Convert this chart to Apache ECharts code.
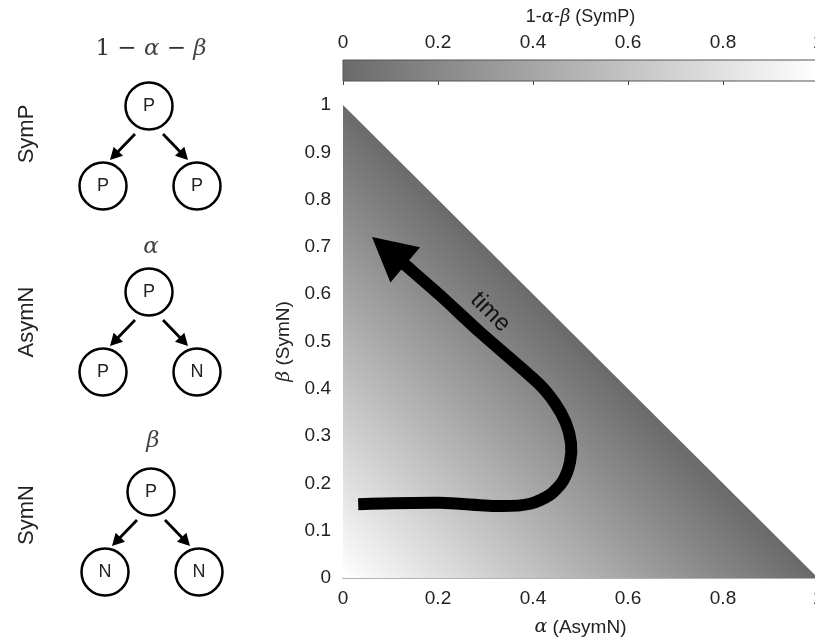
<!DOCTYPE html>
<html><head><meta charset="utf-8">
<script src="https://cdn.jsdelivr.net/npm/echarts@6/dist/echarts.min.js"></script>
<style>html,body{margin:0;padding:0;background:#fff}#c{width:815px;height:644px}</style>
</head><body><div id="c"></div>
<script>
// ---- data ----
const alphaTicks = [0, 0.2, 0.4, 0.6, 0.8, 1];
const betaTicks = [0, 0.1, 0.2, 0.3, 0.4, 0.5, 0.6, 0.7, 0.8, 0.9, 1];
const colorbarTicks = [0, 0.2, 0.4, 0.6, 0.8, 1];
// simplex region alpha + beta <= 1 (value shown = 1 - alpha - beta)
const triangleAlpha = [0, 1, 0];
const triangleBeta = [0, 0, 1];
// "time" trajectory
const timeAlpha = [0.032, 0.204, 0.331, 0.394, 0.436, 0.463, 0.478, 0.480, 0.469, 0.446, 0.411, 0.288, 0.204, 0.131];
const timeBeta  = [0.156, 0.159, 0.152, 0.157, 0.176, 0.205, 0.245, 0.285, 0.328, 0.370, 0.412, 0.520, 0.598, 0.662];
const arrowTip = [0.061, 0.721];
const timeLabelPos = [0.310, 0.562];
const timeLabel = 'time';
// division-mode diagrams
const modes = ['SymP', 'AsymN', 'SymN'];
const modeChildren = [['P', 'P'], ['P', 'N'], ['N', 'N']];
const modeProb = ['1 {m|−} {g|α} {m|−} {g|β}', '{g|α}', '{g|β}'];

const DARK = '#6a6a6a';
const SANS = '"Liberation Sans", Arial, Helvetica, sans-serif';
const SERIF = '"DejaVu Serif","Liberation Serif", serif';

const chart = echarts.init(document.getElementById('c'));

// ---- diagrams (decorative) ----
const graphics = [];
function arrow(x1, y1, x2, y2) {
  const dx = x2 - x1, dy = y2 - y1, L = Math.hypot(dx, dy);
  const ux = dx / L, uy = dy / L, hl = 12, hw = 6.5;
  const bx = x2 - ux * hl, by = y2 - uy * hl;
  graphics.push({type: 'line', shape: {x1, y1, x2: bx + ux, y2: by + uy}, style: {stroke: '#000', lineWidth: 2.8}});
  graphics.push({type: 'polygon', shape: {points: [[x2, y2], [bx - uy * hw, by + ux * hw], [bx + uy * hw, by - ux * hw]]}, style: {fill: '#000'}});
}
function node(x, y, t) {
  graphics.push({type: 'circle', shape: {cx: x, cy: y, r: 23.5}, style: {fill: '#fff', stroke: '#000', lineWidth: 2.5}});
  graphics.push({type: 'text', x, y, style: {text: t, font: '18px ' + SANS, fill: '#222', textAlign: 'center', textVerticalAlign: 'middle'}});
}
const treeTops = [[149, 106], [149, 292], [151, 492]];
const labelY = [49, 247, 441];
const sideY = [134, 322, 515];
modes.forEach((m, i) => {
  const [cx, cy] = treeTops[i];
  graphics.push({type: 'text', x: 27, y: sideY[i], rotation: Math.PI / 2,
    style: {text: m, font: '22px ' + SANS, fill: '#222', textAlign: 'center', textVerticalAlign: 'middle'}});
  graphics.push({type: 'text', x: cx + 2, y: labelY[i],
    style: {text: modeProb[i], font: '23px ' + SERIF, fill: '#333', textAlign: 'center', textVerticalAlign: 'middle',
      rich: {g: {font: 'italic 23px ' + SERIF, fill: '#444'}, m: {font: '23px ' + SERIF, fill: '#333'}}}});
  node(cx, cy, 'P');
  node(cx - 46, cy + 80, modeChildren[i][0]);
  node(cx + 48, cy + 80, modeChildren[i][1]);
  arrow(cx - 14, cy + 28, cx - 39, cy + 54);
  arrow(cx + 14, cy + 28, cx + 39, cy + 54);
});

const labelStyle = {fontFamily: SANS, fontSize: 19, color: '#222'};
const nameRich = {g: {fontFamily: SERIF, fontStyle: 'italic', fontSize: 19, color: '#222'}};

chart.setOption({
  animation: false,
  backgroundColor: '#fff',
  graphic: graphics,
  grid: [
    {left: 343, right: -3, top: 105, height: 473, outerBoundsMode: 'none', containLabel: false},
    {left: 343, right: -3, top: 60, height: 21, outerBoundsMode: 'none', containLabel: false}
  ],
  xAxis: [
    {gridIndex: 0, type: 'value', min: 0, max: 1, interval: 0.2,
      axisLine: {show: true, lineStyle: {color: '#9a9a9a', width: 1.5}}, axisTick: {show: false}, splitLine: {show: false},
      axisLabel: Object.assign({margin: 11}, labelStyle),
      name: '{g|α} (AsymN)', nameLocation: 'middle', nameGap: 40,
      nameTextStyle: Object.assign({rich: nameRich}, labelStyle)},
    {gridIndex: 1, type: 'value', position: 'top', min: 0, max: 1, interval: 0.2,
      axisLine: {show: false}, axisTick: {show: true, inside: true, length: 4, lineStyle: {color: '#444'}}, splitLine: {show: false},
      axisLabel: Object.assign({margin: 8}, labelStyle),
      name: '1-{g|α}-{g|β} (SymP)', nameLocation: 'middle', nameGap: 34,
      nameTextStyle: Object.assign({rich: {g: {fontFamily: SERIF, fontStyle: 'italic', fontSize: 18, color: '#222'}}}, labelStyle, {fontSize: 18})}
  ],
  yAxis: [
    {gridIndex: 0, type: 'value', min: 0, max: 1, interval: 0.1,
      axisLine: {show: false}, axisTick: {show: false}, splitLine: {show: false},
      axisLabel: Object.assign({margin: 12}, labelStyle),
      name: '{g|β} (SymN)', nameLocation: 'middle', nameGap: 42,
      nameTextStyle: Object.assign({rich: nameRich}, labelStyle)},
    {gridIndex: 1, type: 'value', min: 0, max: 1, show: false}
  ],
  series: [
    { // simplex gradient
      type: 'custom', xAxisIndex: 0, yAxisIndex: 0, silent: true, z: 1,
      data: [[0, 0]],
      renderItem: function (params, api) {
        const pts = triangleAlpha.map((a, i) => api.coord([a, triangleBeta[i]]));
        const o = api.coord([0, 0]), m = api.coord([0.5, 0.5]);
        return {type: 'polygon', shape: {points: pts},
          style: {fill: new echarts.graphic.LinearGradient(o[0], o[1], m[0], m[1],
            [{offset: 0, color: '#ffffff'}, {offset: 1, color: DARK}], true)}};
      }
    },
    { // time trajectory + arrow head
      type: 'custom', xAxisIndex: 0, yAxisIndex: 0, silent: true, z: 3,
      data: [[0, 0]],
      renderItem: function (params, api) {
        const pts = timeAlpha.map((a, i) => api.coord([a, timeBeta[i]]));
        const tip = api.coord(arrowTip);
        const base = pts[pts.length - 1];
        const dx = tip[0] - base[0], dy = tip[1] - base[1], L = Math.hypot(dx, dy);
        const ux = dx / L, uy = dy / L, hw = 23;
        const head = [tip, [base[0] - uy * hw, base[1] + ux * hw], [base[0] + uy * hw, base[1] - ux * hw]];
        const lp = api.coord(timeLabelPos);
        return {type: 'group', children: [
          {type: 'polyline', shape: {points: pts.concat([[base[0] + ux * 3, base[1] + uy * 3]]), smooth: 0.25},
            style: {stroke: '#000', lineWidth: 12, fill: null, lineJoin: 'round', lineCap: 'butt'}},
          {type: 'polygon', shape: {points: head}, style: {fill: '#000'}},
          {type: 'text', x: lp[0], y: lp[1], rotation: -Math.PI / 4,
            style: {text: timeLabel, font: '24px ' + SANS, fill: '#111', textAlign: 'center', textVerticalAlign: 'middle'}}
        ]};
      }
    },
    { // colorbar
      type: 'custom', xAxisIndex: 1, yAxisIndex: 1, silent: true, z: 1,
      data: [[0, 0]],
      renderItem: function (params, api) {
        const a = api.coord([colorbarTicks[0], 1]), b = api.coord([colorbarTicks[colorbarTicks.length - 1], 0]);
        return {type: 'rect', shape: {x: a[0], y: a[1], width: b[0] - a[0], height: b[1] - a[1]},
          style: {fill: new echarts.graphic.LinearGradient(a[0], 0, b[0], 0,
            [{offset: 0, color: DARK}, {offset: 1, color: '#ffffff'}], true), stroke: '#555', lineWidth: 1}};
      }
    }
  ]
});
</script></body></html>
